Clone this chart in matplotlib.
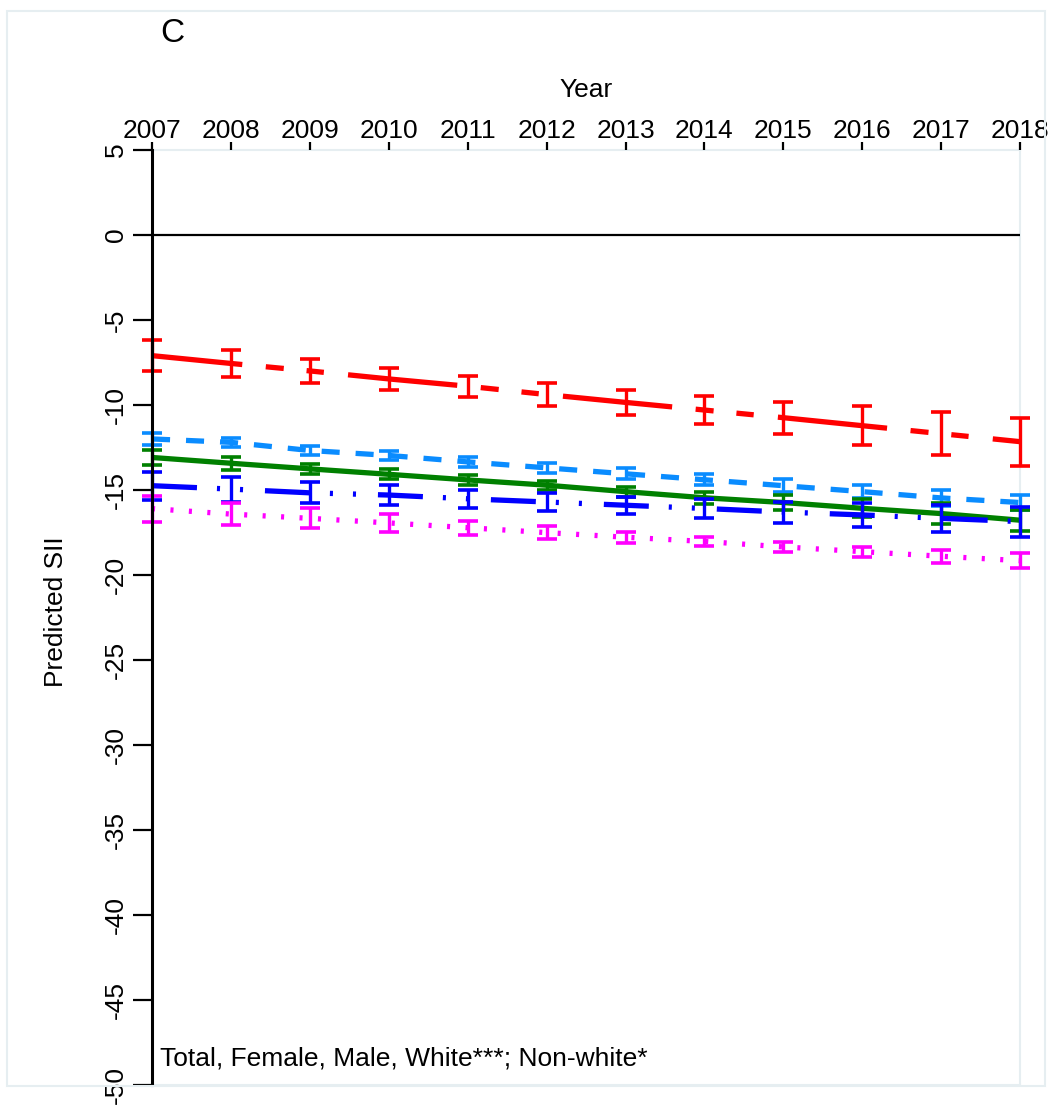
import matplotlib.pyplot as plt
from matplotlib.patches import Rectangle

plt.rcParams['font.family'] = ['Liberation Sans', 'DejaVu Sans']
plt.rcParams['axes.unicode_minus'] = False
plt.rcParams['lines.scale_dashes'] = False

years = list(range(2007, 2019))

# predicted SII and half-width of the 95% CI for each group
female = [-7.10, -7.56, -8.00, -8.47, -8.90, -9.39, -9.85, -10.30, -10.75, -11.22, -11.69, -12.16]
female_ci = [0.93, 0.80, 0.70, 0.65, 0.62, 0.68, 0.74, 0.82, 0.95, 1.13, 1.25, 1.41]
male = [-12.00, -12.20, -12.68, -12.97, -13.35, -13.70, -14.05, -14.40, -14.75, -15.10, -15.47, -15.74]
male_ci = [0.36, 0.25, 0.26, 0.26, 0.28, 0.31, 0.32, 0.31, 0.38, 0.39, 0.47, 0.44]
total = [-13.09, -13.43, -13.76, -14.08, -14.41, -14.72, -15.10, -15.46, -15.74, -16.08, -16.39, -16.78]
total_ci = [0.44, 0.39, 0.29, 0.29, 0.29, 0.27, 0.29, 0.36, 0.44, 0.53, 0.61, 0.61]
nonwhite = [-14.75, -14.95, -15.17, -15.30, -15.52, -15.71, -15.90, -16.09, -16.30, -16.47, -16.67, -16.86]
nonwhite_ci = [0.83, 0.74, 0.62, 0.57, 0.52, 0.51, 0.51, 0.54, 0.62, 0.69, 0.78, 0.88]
white = [-16.10, -16.42, -16.67, -16.94, -17.22, -17.51, -17.78, -18.03, -18.35, -18.63, -18.90, -19.16]
white_ci = [0.76, 0.64, 0.59, 0.51, 0.42, 0.39, 0.32, 0.29, 0.31, 0.29, 0.39, 0.44]

y_ticks = list(range(5, -51, -5))
note = 'Total, Female, Male, White***; Non-white*'

W, H = 1054, 1107
fig = plt.figure(figsize=(W / 100 + 0.001, H / 100 + 0.001), dpi=100)
ax = fig.add_axes([152 / W, 1 - 1085 / H, 868 / W, 935 / H])

series = [
    (female, female_ci, '#ff0000', (13.7, [79, 17, 13, 16.5, 12.5, 17.5])),
    (male, male_ci, '#0a8cff', (0, [13, 11.5])),
    (total, total_ci, '#008000', None),
    (nonwhite, nonwhite_ci, '#0000ff', (0, [32.4, 14.4, 2.2, 14.4, 2.2, 15.8])),
    (white, white_ci, '#ff00ff', (0, [2.2, 11.1])),
]

for vals, ci, col, dash in series:
    ln, = ax.plot(years, vals, color=col, lw=3.8, solid_capstyle='butt', zorder=3)
    if dash is not None:
        ln.set_linestyle(dash)
        ln.set_dash_capstyle('butt')
    eb = ax.errorbar(years, vals, yerr=ci, fmt='none', ecolor=col,
                     elinewidth=2.4, capsize=7, capthick=2.6, zorder=3)
    for art in eb.get_children():
        art.set_clip_on(False)

ax.axhline(0, color='black', lw=1.6)

ax.set_xlim(2007, 2018)
ax.set_ylim(-50, 5)
ax.xaxis.tick_top()
ax.set_xticks(years)
ax.set_yticks(y_ticks)
ax.set_yticklabels([str(v) for v in y_ticks])
ax.tick_params(axis='x', length=6, width=1.6, pad=-1, labelsize=19, color='black')
ax.tick_params(axis='y', length=13.5, width=1.6, pad=4, labelsize=19, labelrotation=90)
for lbl in ax.get_yticklabels():
    lbl.set_va('center')

light = '#e6eef1'
for side in ['top', 'right', 'bottom']:
    ax.spines[side].set_color(light)
    ax.spines[side].set_linewidth(1.5)
    ax.spines[side].set_zorder(1)
ax.spines['left'].set_color('black')
ax.spines['left'].set_linewidth(2.2)
ax.spines['left'].set_zorder(4)

# outer frame of the graph region
fig.patches.append(Rectangle((7 / W, 1 - 1086 / H), 1038 / W, 1075 / H,
                             transform=fig.transFigure, fill=False,
                             edgecolor=light, lw=1.5))

fig.text(172 / W, 1 - 33 / H, 'C', ha='center', va='center', fontsize=24)
fig.text(586 / W, 1 - 90 / H, 'Year', ha='center', va='center', fontsize=19)
fig.text(56 / W, 1 - 612 / H, 'Predicted SII', ha='center', va='center',
         rotation=90, fontsize=19)
fig.text(160 / W, 1 - 1058 / H, note, ha='left', va='center', fontsize=19)

fig.savefig('out.png', dpi=100)
